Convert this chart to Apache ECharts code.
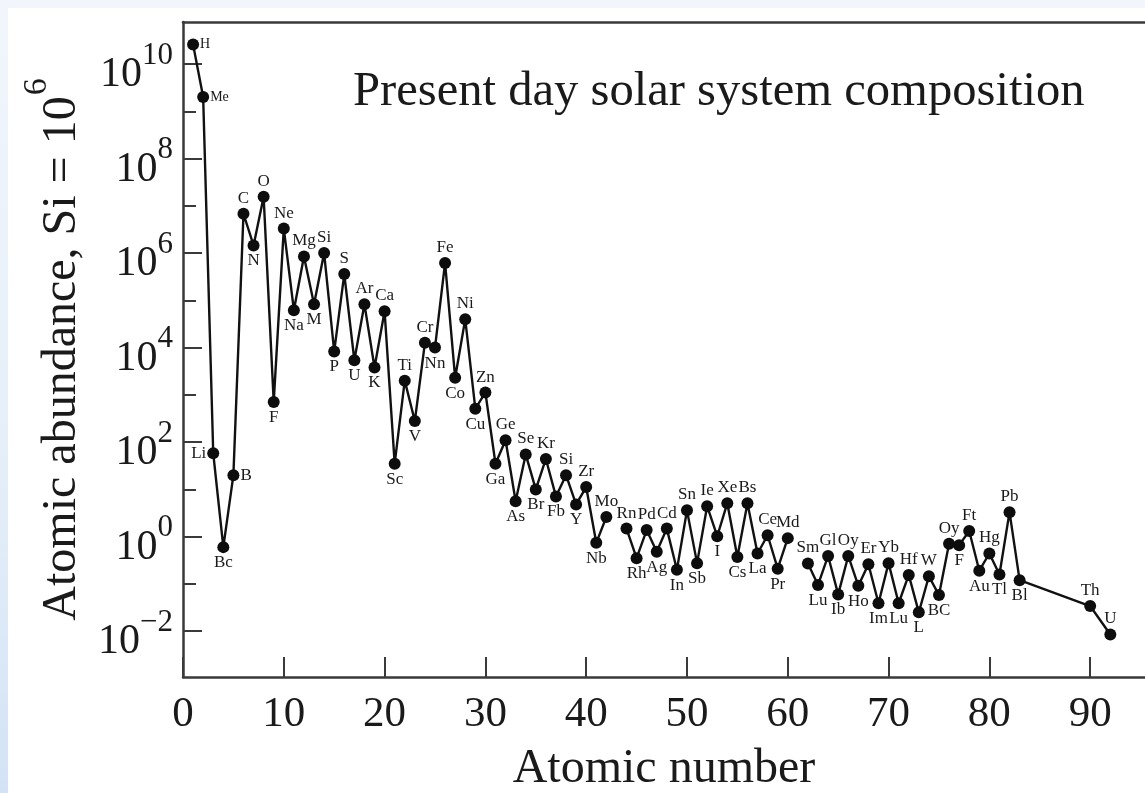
<!DOCTYPE html>
<html>
<head>
<meta charset="utf-8">
<script src="https://cdn.jsdelivr.net/npm/echarts@6/dist/echarts.min.js"></script>
<style>
  html, body { margin: 0; padding: 0; }
  body { width: 1145px; height: 793px; position: relative; overflow: hidden;
         background: linear-gradient(to bottom, #f2f6fc 0%, #e4eef9 60%, #d3e3f5 100%); }
  #paper { position: absolute; left: 8px; top: 8px; width: 1137px; height: 785px; background: #ffffff; }
  #chart { position: absolute; left: 0; top: 0; width: 1145px; height: 793px; }
</style>
</head>
<body>
<div id="paper"></div>
<div id="chart"></div>
<script>
// ---- data ----
const atomicNumbers = [1,2,3,4,5,6,7,8,9,10,11,12,13,14,15,16,17,18,19,20,
  21,22,23,24,25,26,27,28,29,30,31,32,33,34,35,36,37,38,39,40,
  41,42,43,44,45,46,47,48,49,50,51,52,53,54,55,56,57,58,59,60,
  61,62,63,64,65,66,67,68,69,70,71,72,73,74,75,76,77,78,79,80,
  81,82,83,90,92];
const elementLabels = ['H','Me','Li','Bc','B','C','N','O','F','Ne',
  'Na','Mg','M','Si','P','S','U','Ar','K','Ca',
  'Sc','Ti','V','Cr','Nn','Fe','Co','Ni','Cu','Zn',
  'Ga','Ge','As','Se','Br','Kr','Fb','Si','Y','Zr',
  'Nb','Mo','','Rn','Rh','Pd','Ag','Cd','In','Sn',
  'Sb','Ie','I','Xe','Cs','Bs','La','Ce','Pr','Md',
  '','Sm','Lu','Gl','Ib','Oy','Ho','Er','Im','Yb',
  'Lu','Hf','L','W','BC','Oy','F','Ft','Au','Hg',
  'Tl','Pb','Bl','Th','U'];
// abundance relative to Si = 1e6 (null = no point, line broken)
const abundances = [2.6e10, 2.0e9, 58, 0.60, 20, 6.8e6, 1.45e6, 1.55e7, 710, 3.3e6,
  6.2e4, 8.5e5, 8.3e4, 1.0e6, 8.3e3, 3.6e5, 5.4e3, 8.3e4, 3.8e3, 5.9e4,
  35, 2.0e3, 280, 1.26e4, 1.0e4, 6.2e5, 2.3e3, 4.0e4, 510, 1.12e3,
  35, 110, 5.6, 55, 10, 44, 7.1, 20, 4.8, 11.2,
  0.74, 2.6, null, 1.48, 0.35, 1.38, 0.48, 1.48, 0.20, 3.6,
  0.275, 4.4, 1.02, 5.1, 0.37, 5.1, 0.44, 1.07, 0.21, 0.93,
  null, 0.27, 0.095, 0.39, 0.060, 0.39, 0.091, 0.26, 0.039, 0.275,
  0.039, 0.155, 0.025, 0.145, 0.058, 0.71, 0.66, 1.32, 0.19, 0.44,
  0.158, 3.3, 0.12, 0.034, 0.0085];
const yLabelExponents = [-2, 0, 2, 4, 6, 8, 10];
const yMinorExponents = [-1, 1, 3, 5, 7, 9];
const xTickValues = [0, 10, 20, 30, 40, 50, 60, 70, 80, 90];

// ---- label placement (style only): [position, dx, dy] ----
const labelPlacement = [
  ['right',5,0],['right',5,2],['left',3,5],['bottom',0,0],['right',5,5],
  ['top',-3,0],['bottom',2,0],['top',0,0],['bottom',2,0],['top',4,0],
  ['bottom',5,3],['top',-2,0],['bottom',5,2],['top',0,0],['bottom',0,1],
  ['top',4,0],['bottom',0,2],['top',0,0],['bottom',0,1],['top',5,0],
  ['bottom',1,0],['top',1,0],['bottom',0,2],['top',-4,2],['bottom',0,3],
  ['top',0,0],['bottom',0,0],['top',2,0],['bottom',-8,3],['top',7,3],
  ['bottom',-5,2],['top',4,0],['bottom',-6,-1],['top',1,0],['bottom',2,0],
  ['top',4,0],['bottom',1,1],['top',2,0],['bottom',-2,1],['top',4,3],
  ['bottom',5,0],['top',-4,0],null,['top',6,2],['bottom',0,10],
  ['top',1,2],['bottom',-3,0],['top',-1,2],['bottom',1,0],['top',-3,2],
  ['bottom',3,3],['top',0,1],['bottom',-1,1],['top',4,3],['bottom',-3,4],
  ['top',7,3],['bottom',-2,2],['top',2,1],['bottom',3,5],['top',7,3],
  null,['top',3,4],['bottom',1,2],['top',-1,1],['bottom',2,7],
  ['top',-1,0],['bottom',3,1],['top',1,1],['bottom',-2,4],['top',0,0],
  ['bottom',3,-4],['top',-1,1],['bottom',3,3],['top',0,0],['bottom',11,2],
  ['top',-11,0],['bottom',0,5],['top',0,2],['bottom',0,1],['top',-2,2],
  ['bottom',4,3],['top',-2,1],['bottom',6,4],['top',3,0],['top',6,-3]
];

const FONT = 'Liberation Serif, Times New Roman, serif';
const INK = '#1a1a1a';
const AXIS = '#3a3a3a';

const seriesData = atomicNumbers.map((z, i) => {
  const a = abundances[i];
  if (a === null) return { value: [z, '-'] };
  const p = labelPlacement[i];
  const small = (i < 2);
  return {
    value: [z, Math.log10(a)],
    label: {
      show: true,
      formatter: elementLabels[i],
      position: p[0],
      offset: [p[1], p[2]],
      distance: 1,
      fontSize: small ? 14 : 17,
      fontFamily: FONT,
      color: INK
    }
  };
});

const yMin = -2.97, yMax = 10.89;
const xMin = 0, xMax = 95.44;

function expLabel(v) {
  const e = v < 0 ? '\u2212' + (-v) : String(v);
  return '{b|10}{s|' + e + '}';
}

const chart = echarts.init(document.getElementById('chart'), null, { renderer: 'canvas' });
chart.setOption({
  backgroundColor: 'transparent',
  animation: false,
  title: {
    text: 'Present day solar system composition',
    left: 348, top: 63,
    textStyle: { fontFamily: FONT, fontSize: 48.6, fontWeight: 'normal', color: INK }
  },
  grid: { left: 183, top: 22, right: 0, bottom: 116, containLabel: false, outerBoundsMode: 'none' },
  xAxis: [{
    type: 'value', min: xMin, max: xMax, position: 'bottom',
    name: 'Atomic number', nameLocation: 'middle', nameGap: 68,
    nameTextStyle: { fontFamily: FONT, fontSize: 48, color: INK },
    axisLine: { show: true, onZero: false, lineStyle: { color: AXIS, width: 2.5 } },
    axisTick: { show: true, inside: true, length: 20, customValues: xTickValues, lineStyle: { color: AXIS, width: 2 } },
    axisLabel: { show: true, margin: 16, customValues: xTickValues, fontFamily: FONT, fontSize: 43, color: INK },
    splitLine: { show: false }
  }, {
    type: 'value', min: xMin, max: xMax, position: 'top',
    axisLine: { show: true, onZero: false, lineStyle: { color: AXIS, width: 2.5 } },
    axisTick: { show: false }, axisLabel: { show: false }, splitLine: { show: false }
  }],
  yAxis: [{
    type: 'value', min: yMin, max: yMax, position: 'left',
    name: '{b|Atomic abundance, Si = 10}{s|6}',
    nameLocation: 'middle', nameGap: 97, nameRotate: 90,
    nameTextStyle: {
      fontFamily: FONT, fontSize: 48, color: INK,
      rich: {
        b: { fontFamily: FONT, fontSize: 48, color: INK, verticalAlign: 'bottom', padding: [18, 0, 0, 0] },
        s: { fontFamily: FONT, fontSize: 34, color: INK, verticalAlign: 'top', padding: [0, 0, 0, 1] }
      }
    },
    axisLine: { show: true, onZero: false, lineStyle: { color: AXIS, width: 2.5 } },
    axisTick: { show: true, inside: true, length: 19, customValues: yLabelExponents, lineStyle: { color: AXIS, width: 2 } },
    axisLabel: {
      show: true, margin: 10, customValues: yLabelExponents,
      formatter: expLabel,
      rich: {
        b: { fontFamily: FONT, fontSize: 42, color: INK, verticalAlign: 'bottom', padding: [22, 0, 0, 0] },
        s: { fontFamily: FONT, fontSize: 31, color: INK, verticalAlign: 'top', padding: [8, 0, 0, 0] }
      }
    },
    splitLine: { show: false }
  }, {
    type: 'value', min: yMin, max: yMax, position: 'left',
    axisLine: { show: false },
    axisTick: { show: true, inside: true, length: 13, customValues: yMinorExponents, lineStyle: { color: AXIS, width: 2 } },
    axisLabel: { show: false }, splitLine: { show: false }
  }],
  series: [{
    type: 'line',
    xAxisIndex: 0, yAxisIndex: 0,
    data: seriesData,
    connectNulls: false,
    symbol: 'circle', symbolSize: 12,
    itemStyle: { color: '#0d0d0d' },
    lineStyle: { color: '#111111', width: 2.4 },
    labelLayout: { hideOverlap: false },
    z: 3
  }]
});
</script>
</body>
</html>
